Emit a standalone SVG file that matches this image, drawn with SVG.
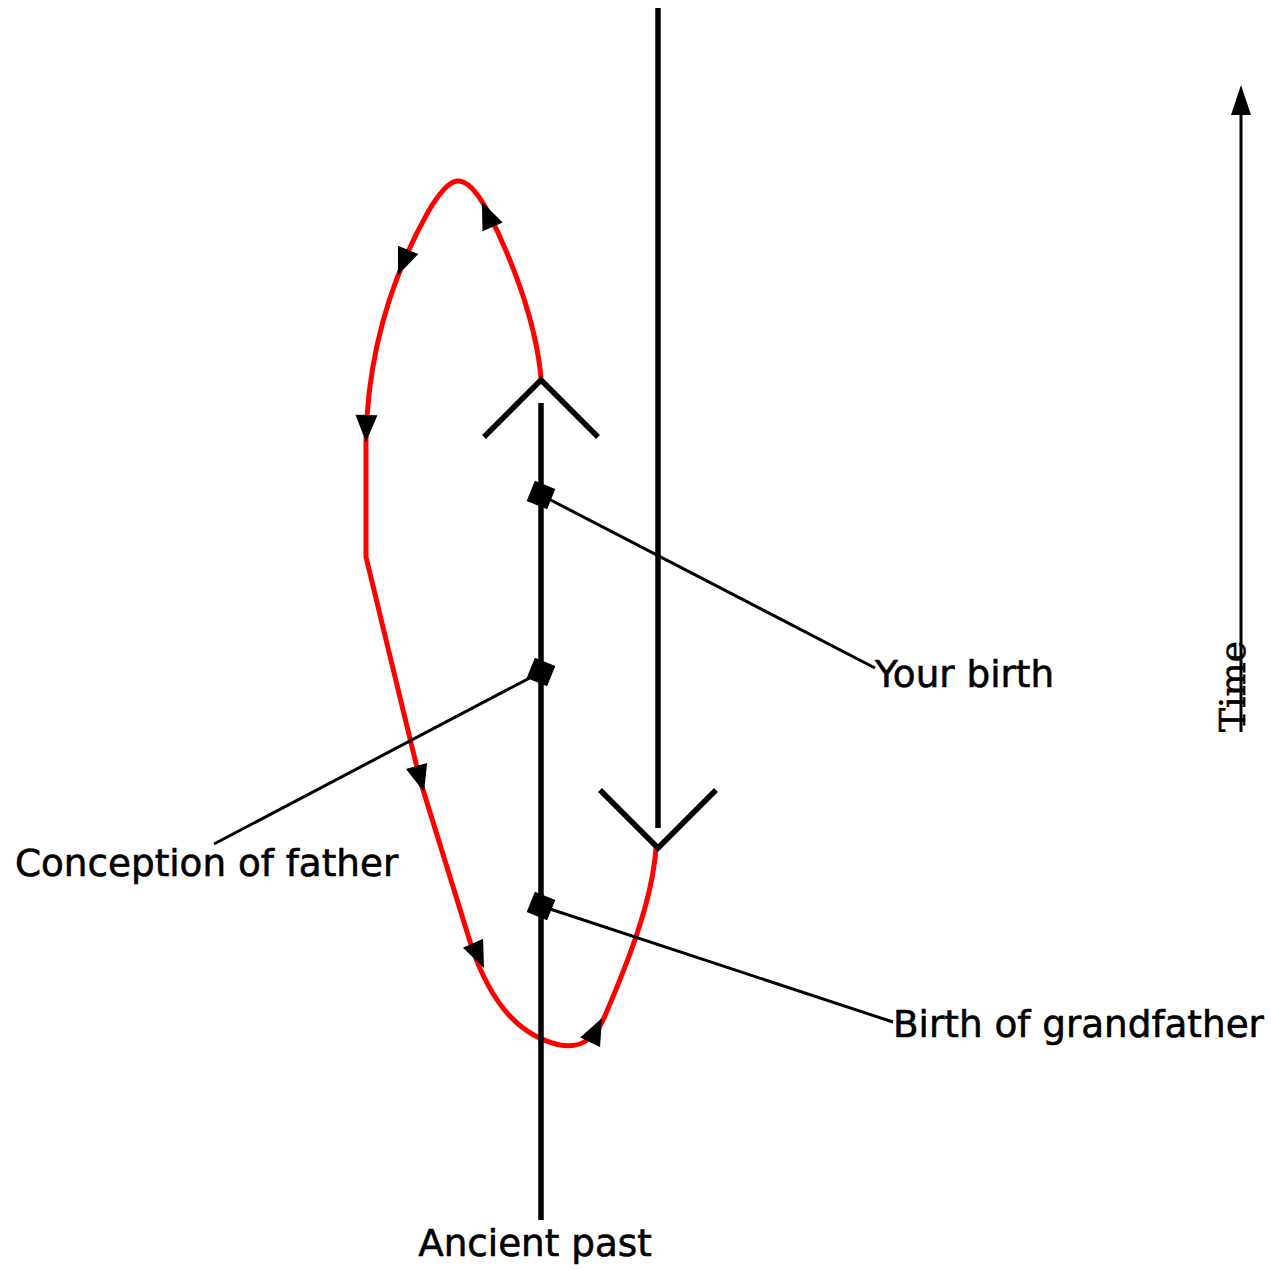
<svg xmlns="http://www.w3.org/2000/svg" width="1271" height="1270" viewBox="0 0 1271 1270">
<defs>
<style>
.blk{stroke:#000;stroke-width:5.5;fill:none;stroke-linecap:butt}
.lead{stroke:#000;stroke-width:3;fill:none}
.red{stroke:#ff0000;stroke-width:5;fill:none;stroke-linejoin:round}
.lbl{font-family:"DejaVu Sans",sans-serif;font-size:37.3px;fill:#000;stroke:#000;stroke-width:0.6}
.ser{font-family:"DejaVu Serif",serif;font-size:36px;fill:#000;stroke:#000;stroke-width:0.6}
.ah{fill:#000}
.dia{fill:#000}
</style>
<polygon id="head" points="0,0 -27,-11 -27,11"/>
</defs>
<rect width="1271" height="1270" fill="#fff"/>
<g id="connectors">
<path class="red" d="M541,378 C536,320 510,255 487,210 C475,188 465,180 457,181 C448,182 438,195 428,212 C400,262 368,340 366,440 L366,557 L420,780 L472,948 C492,1005 520,1036 560,1045 C582,1049 595,1038 604,1018 C628,962 652,902 656,848"/>
<use href="#head" class="ah" transform="translate(482,202) rotate(-113)"/>
<use href="#head" class="ah" transform="translate(398,275) rotate(112)"/>
<use href="#head" class="ah" transform="translate(366,442) rotate(91)"/>
<use href="#head" class="ah" transform="translate(424,792) rotate(74)"/>
<use href="#head" class="ah" transform="translate(484,968) rotate(66)"/>
<use href="#head" class="ah" transform="translate(602,1018) rotate(-64)"/>
<line class="lead" x1="541" y1="495" x2="875" y2="668"/>
<line class="lead" x1="541" y1="672" x2="214" y2="844"/>
<line class="lead" x1="541" y1="906" x2="893" y2="1022"/>
</g>
<g id="worldline">
<line class="blk" x1="541" y1="403" x2="541" y2="1220"/>
<polyline class="blk" points="484,437 541,380 598,437"/>
</g>
<g id="reverse-line">
<line class="blk" x1="658" y1="8" x2="658" y2="828"/>
<polyline class="blk" points="600,790 658,848 716,790"/>
</g>
<g id="your-birth">
<rect class="dia" x="-11" y="-11" width="22" height="22" transform="translate(541,495) rotate(22)"/>
<text class="lbl" x="875" y="687">Your birth</text>
</g>
<g id="conception-of-father">
<rect class="dia" x="-11" y="-11" width="22" height="22" transform="translate(541,672) rotate(22)"/>
<text class="lbl" x="15" y="876">Conception of father</text>
</g>
<g id="birth-of-grandfather">
<rect class="dia" x="-11" y="-11" width="22" height="22" transform="translate(541,906) rotate(22)"/>
<text class="lbl" x="893" y="1037">Birth of grandfather</text>
</g>
<g id="ancient-past">
<text class="lbl" x="535" y="1256" text-anchor="middle">Ancient past</text>
</g>
<g id="time-axis">
<line stroke="#000" stroke-width="3" x1="1241" y1="732" x2="1241" y2="110"/>
<polygon class="ah" points="1241,85 1231,115 1251,115"/>
<text class="ser" transform="translate(1245,732) rotate(-90)">Time</text>
</g>
</svg>
